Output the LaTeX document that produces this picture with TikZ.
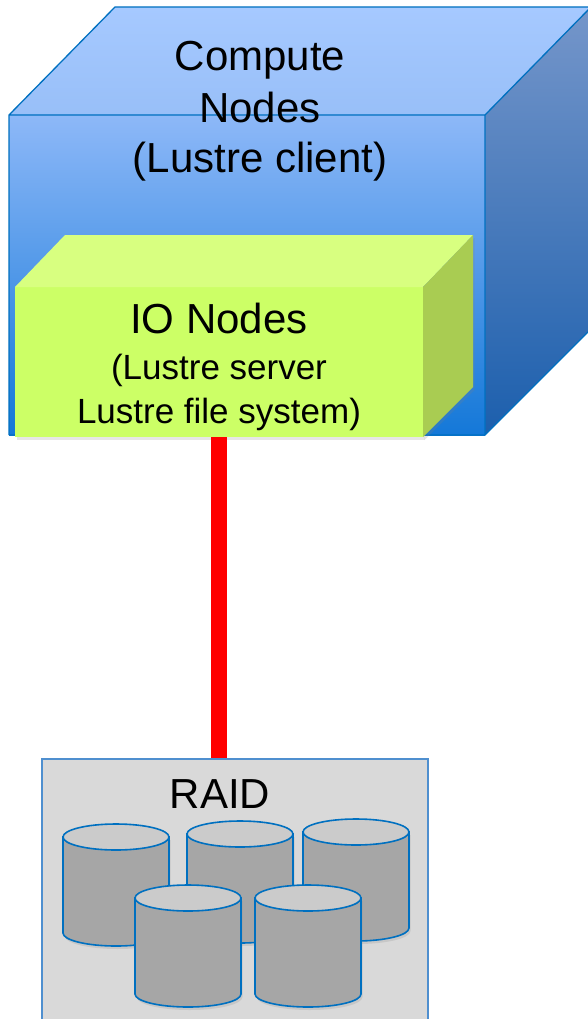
\documentclass[tikz,border=0pt]{standalone}
\usepackage{fontspec}
\setmainfont{Liberation Sans}
\usetikzlibrary{shadows}
\definecolor{cubeline}{HTML}{0070C0}
\definecolor{cubetopA}{HTML}{A6C9FF}
\definecolor{cubetopB}{HTML}{98BFF8}
\definecolor{cubefrontA}{HTML}{8DB8F8}
\definecolor{cubefrontB}{HTML}{1478D8}
\definecolor{cubesideA}{HTML}{7596CA}
\definecolor{cubesideB}{HTML}{1C5FAD}
\definecolor{iofront}{HTML}{CCFF66}
\definecolor{iotop}{HTML}{D8FF80}
\definecolor{ioside}{HTML}{A9CC52}
\definecolor{raidfill}{HTML}{D9D9D9}
\definecolor{raidline}{HTML}{4F8FCF}
\definecolor{diskbody}{HTML}{A6A6A6}
\definecolor{disktop}{HTML}{CBCBCB}
\tikzset{
  bigtext/.style={font=\fontsize{42}{51}\selectfont, align=center, inner sep=0pt},
  smalltext/.style={font=\fontsize{35}{44}\selectfont, align=center, inner sep=0pt},
  softshadow/.style={drop shadow={opacity=0.2, shadow xshift=1.5pt, shadow yshift=-3pt}},
  disk/.style={draw=cubeline, line width=1.6pt},
}
\newcommand\raiddisk[2]{%
  \begin{scope}[shift={(#1,#2)}]
    \filldraw[disk, fill=diskbody, softshadow] (-53,0) -- (-53,96)
      arc[start angle=180, end angle=360, x radius=53pt, y radius=13pt] -- (53,0) -- cycle;
    \filldraw[disk, fill=disktop] (0,0) ellipse[x radius=53pt, y radius=13pt];
  \end{scope}}
\begin{document}
\begin{tikzpicture}[x=1pt, y=-1pt]
\useasboundingbox (0,0) rectangle (587,1019);
\shade[top color=cubetopA, bottom color=cubetopB] (9,115) -- (115,7) -- (591,7) -- (485,115) -- cycle;
\shade[top color=cubesideA, bottom color=cubesideB] (485,115) -- (591,7) -- (591,329) -- (485,435) -- cycle;
\shade[top color=cubefrontA, bottom color=cubefrontB] (9,115) rectangle (485,435);
\draw[cubeline, line width=1.3pt, line join=round]
  (9,435) -- (9,115) -- (115,7) -- (591,7)
  (9,115) -- (485,115) -- (591,7)
  (485,115) -- (485,435) -- (591,329)
  (9,435) -- (485,435);
\node[bigtext, anchor=base] (compute) at (260,173) {Compute\\Nodes\\(Lustre client)};
\node[rectangle, fill=iofront, softshadow, minimum width=408, minimum height=150, inner sep=0pt] (io) at (219,362) {};
\fill[iotop] (15,287) -- (65,235) -- (473,235) -- (423,287) -- cycle;
\fill[ioside, softshadow] (423,287) -- (473,235) -- (473,387) -- (423,437) -- cycle;
\node[bigtext, anchor=base] (ionodes) at (219,333) {IO Nodes};
\node[smalltext, anchor=base] (lustre) at (219,423) {(Lustre server\\Lustre file system)};
\node[rectangle, draw=raidline, line width=1.3pt, fill=raidfill, minimum width=386, minimum height=266] (raid) at (235,892) {};
\node[bigtext, anchor=base] (raidlabel) at (220,808) {RAID};
\raiddisk{116}{837}
\raiddisk{240}{834}
\raiddisk{356}{832}
\raiddisk{188}{898}
\raiddisk{308}{898}
\path
  (io.south) edge [red, line width=16pt] (io.south |- raid.north)
;
\end{tikzpicture}
\end{document}
